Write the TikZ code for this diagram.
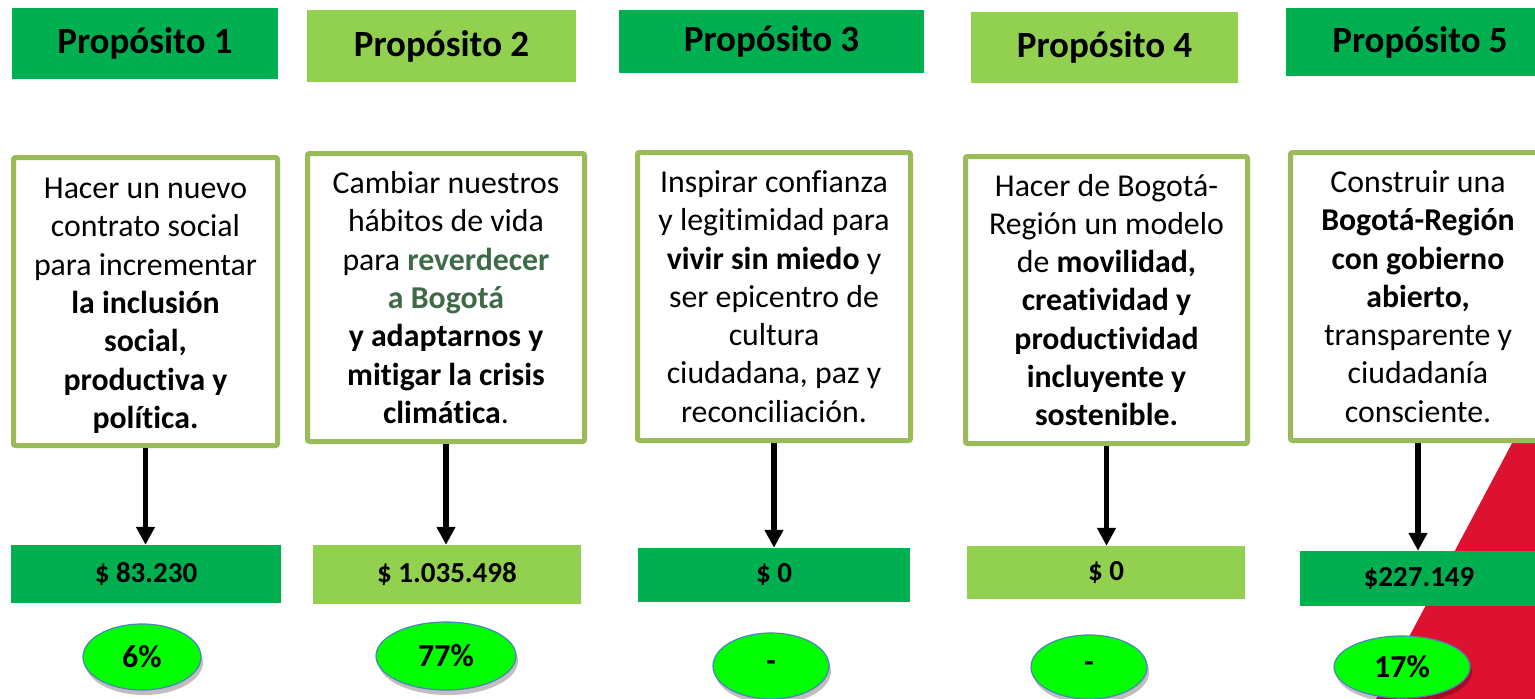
\documentclass[tikz,border=0pt]{standalone}
\usepackage{fontspec}
\setmainfont{Carlito}[Ligatures=NoCommon]
\usetikzlibrary{arrows.meta,shadows,shapes.geometric}
\definecolor{dkgreen}{HTML}{00B050}
\definecolor{ltgreen}{HTML}{92D050}
\definecolor{bordergreen}{HTML}{9BBB59}
\definecolor{limegreen}{HTML}{00FF00}
\definecolor{ellborder}{HTML}{4F81BD}
\definecolor{redtri}{HTML}{DC1230}
\definecolor{textgreen}{HTML}{3E6A48}
\begin{document}
\begin{tikzpicture}[x=1pt,y=-1pt,
  headbox/.style={inner sep=0pt, font=\fontsize{37}{40}\selectfont\bfseries},
  textbox/.style={draw=bordergreen, line width=5pt, fill=white, rounded corners=2pt, align=center, inner sep=0pt, font=\fontsize{31.8}{38.3}\selectfont},
  valbox/.style={inner sep=0pt, font=\fontsize{29}{32}\selectfont\bfseries},
  pct/.style={ellipse, draw=ellborder, line width=1.2pt, fill=limegreen, inner sep=0pt,
    drop shadow={shadow xshift=2pt, shadow yshift=-5pt, opacity=0.25, fill=black},
    font=\fontsize{32}{34}\selectfont\bfseries},
  arr/.style={-{Triangle[width=18pt,length=18pt]}, line width=5.5pt, black}
]
\useasboundingbox (0,0) rectangle (1535,699);
\clip (0,0) rectangle (1535,699);

% red background triangle
\fill[redtri] (1535,400) -- (1535,699) -- (1376,699) -- cycle;

% headers
\node[headbox, fill=dkgreen, minimum width=266pt, minimum height=71pt] (H1) at (145,43.5) {Propósito 1};
\node[headbox, fill=ltgreen, minimum width=269pt, minimum height=72pt] (H2) at (441.5,46) {Propósito 2};
\node[headbox, fill=dkgreen, minimum width=305pt, minimum height=63pt] (H3) at (771.5,41.5) {Propósito 3};
\node[headbox, fill=ltgreen, minimum width=267pt, minimum height=71pt] (H4) at (1104.5,47.5) {Propósito 4};
\node[headbox, fill=dkgreen, minimum width=268pt, minimum height=68pt] (H5) at (1420,42) {Propósito 5};

% content boxes
\node[textbox, minimum width=264pt, minimum height=288pt] (C1) at (145.5,301.5)
  {\rule{0pt}{29pt}Hacer un nuevo\\contrato social\\para incrementar\\\textbf{la inclusión}\\\textbf{social,}\\\textbf{productiva y}\\\textbf{política.}};
\node[textbox, minimum width=277pt, minimum height=288pt] (C2) at (446,297.5)
  {Cambiar nuestros\\hábitos de vida\\para \textcolor{textgreen}{\textbf{reverdecer}}\\\textcolor{textgreen}{\textbf{a Bogotá}}\\\textbf{y adaptarnos y}\\\textbf{mitigar la crisis}\\\textbf{climática}.};
\node[textbox, minimum width=273pt, minimum height=288pt] (C3) at (774,296.5)
  {Inspirar confianza\\y legitimidad para\\\textbf{vivir sin miedo} y\\ser epicentro de\\cultura\\ciudadana, paz y\\reconciliación.};
\node[textbox, minimum width=282pt, minimum height=287pt] (C4) at (1106.5,300)
  {Hacer de Bogotá-\\Región un modelo\\de \textbf{movilidad,}\\\textbf{creatividad y}\\\textbf{productividad}\\\textbf{incluyente y}\\\textbf{sostenible.}};
\node[textbox, minimum width=255pt, minimum height=288pt] (C5) at (1418,296.5)
  {Construir una\\\textbf{Bogotá-Región}\\\textbf{con gobierno}\\\textbf{abierto,}\\transparente y\\ciudadanía\\consciente.};

% value boxes
\node[valbox, fill=dkgreen, minimum width=270pt, minimum height=58pt] (V1) at (146,574) {\$ 83.230};
\node[valbox, fill=ltgreen, minimum width=268pt, minimum height=59pt] (V2) at (447,574.5) {\$ 1.035.498};
\node[valbox, fill=dkgreen, minimum width=272pt, minimum height=54pt] (V3) at (774,575) {\$ 0};
\node[valbox, fill=ltgreen, minimum width=278pt, minimum height=53pt] (V4) at (1106,572.5) {\$ 0};
\node[valbox, fill=dkgreen, minimum width=238pt, minimum height=55pt] (V5) at (1419,578.5) {\$227.149};

% arrows
\draw[arr] (C1.south) -- (C1.south |- V1.north);
\draw[arr] (C2.south) -- (C2.south |- V2.north);
\draw[arr] (C3.south) -- (C3.south |- V3.north);
\draw[arr] (C4.south) -- (C4.south |- V4.north);
\draw[arr] (C5.south) -- (C5.south |- V5.north);

% percentages
\node[pct, minimum width=118pt, minimum height=66pt] (P1) at (142,657) {6\%};
\node[pct, minimum width=140pt, minimum height=68pt] (P2) at (446,656) {77\%};
\node[pct, minimum width=116pt, minimum height=66pt] (P3) at (771,666) {-};
\node[pct, minimum width=116pt, minimum height=64pt] (P4) at (1089,667) {-};
\node[pct, minimum width=136pt, minimum height=62pt] (P5) at (1402,667) {17\%};
\end{tikzpicture}
\end{document}
